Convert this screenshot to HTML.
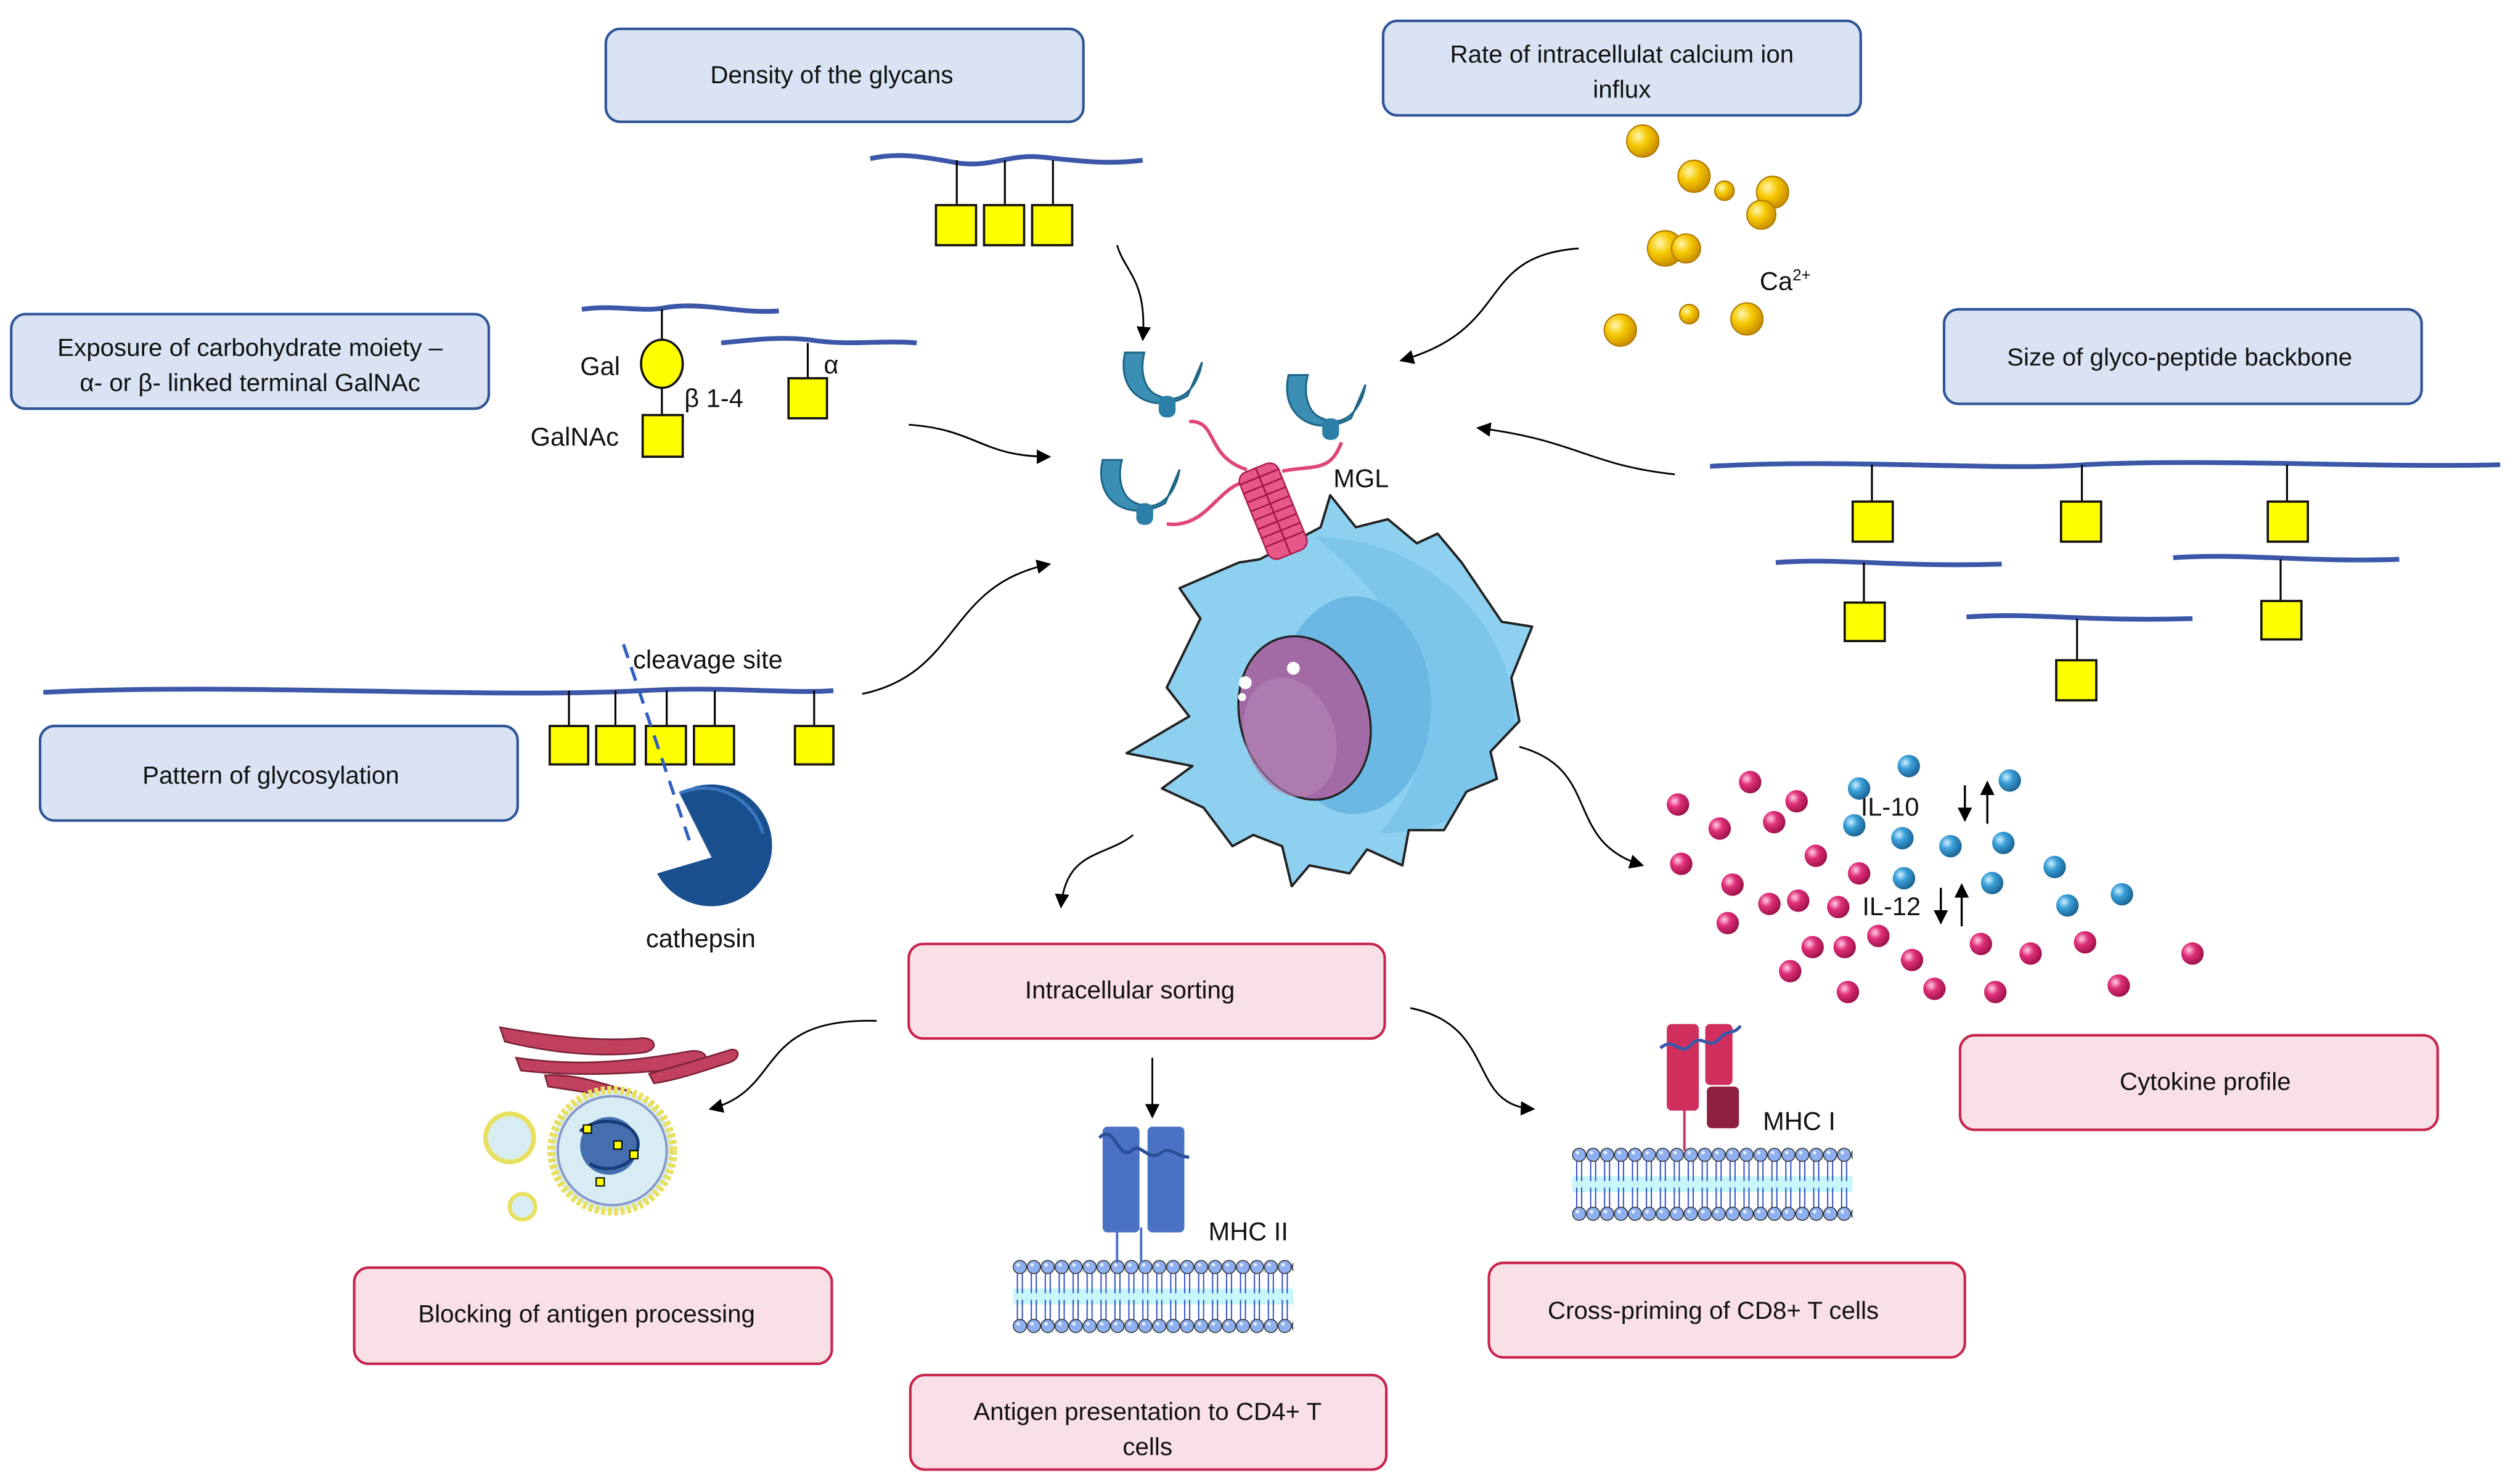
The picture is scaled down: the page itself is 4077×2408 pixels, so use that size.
<!DOCTYPE html>
<html><head><meta charset="utf-8"><style>
html,body{margin:0;padding:0;background:#fff;}
svg{display:block;}
text{font-family:"Liberation Sans",sans-serif;fill:#111;}
</style></head><body>
<svg width="4077" height="2408" viewBox="0 0 1568 926" preserveAspectRatio="none" xmlns="http://www.w3.org/2000/svg">
<defs>
<marker id="ah" viewBox="0 0 10 10" refX="9" refY="5" markerWidth="9" markerHeight="9" markerUnits="userSpaceOnUse" orient="auto">
<path d="M0,0 L10,5 L0,10 z" fill="#000"/></marker>
<pattern id="mem" width="8.7" height="46" patternUnits="userSpaceOnUse">
<rect x="0" y="18" width="8.7" height="10" fill="#c8f6fa"/>
<path d="M2.8,8 V21 M5.9,8 V21 M2.8,25 V38 M5.9,25 V38" stroke="#1f3fbf" stroke-width="0.7" fill="none"/>
<circle cx="4.35" cy="4.6" r="4.1" fill="#8fb0f0" stroke="#333" stroke-width="0.6"/>
<circle cx="4.35" cy="41.4" r="4.1" fill="#8fb0f0" stroke="#333" stroke-width="0.6"/>
<circle cx="3.3" cy="3.3" r="1.1" fill="#e8f0ff"/>
<circle cx="3.3" cy="40.1" r="1.1" fill="#e8f0ff"/>
</pattern>
<radialGradient id="ca" cx="0.35" cy="0.35" r="0.7"><stop offset="0" stop-color="#fff6b0"/><stop offset="0.45" stop-color="#f5c800"/><stop offset="1" stop-color="#c88a00"/></radialGradient>
<radialGradient id="pk" cx="0.35" cy="0.35" r="0.7"><stop offset="0" stop-color="#ffd0e4"/><stop offset="0.4" stop-color="#e0307a"/><stop offset="1" stop-color="#9a1046"/></radialGradient>
<radialGradient id="bl" cx="0.35" cy="0.35" r="0.7"><stop offset="0" stop-color="#d0f0ff"/><stop offset="0.4" stop-color="#3aa0d8"/><stop offset="1" stop-color="#1a5f90"/></radialGradient>
<g id="rec"><path d="M-16,-12 C-20,6 -4,14 10,6 L16,-8 C14,4 6,10 -2,6 C-8,4 -10,-4 -8,-12 Z" fill="#3b8fb5" stroke="#1e6688" stroke-width="0.8"/><rect x="-2" y="6" width="7" height="9" rx="3" fill="#2c7fa6"/></g>
<path id="cellp" d="M830,309 L846,329 L866,324 L884,339 L897,333 L912,351 L937,388 L956,391 L943,423 L948,450 L930,469 L934,486 L915,494 L901,518 L879,518 L875,540 L853,530 L842,545 L817,540 L806,553 L800,528 L782,521 L769,528 L751,504 L725,492 L744,478 L703,470 L742,447 L728,429 L749,386 L736,367 L773,351 L786,349 L824,329 Z"/>
<clipPath id="cc"><use href="#cellp"/></clipPath>
</defs>

<g fill="#dae3f3" stroke="#2f5597" stroke-width="1.6">
<rect x="378" y="18" width="298" height="58" rx="9"/>
<rect x="863" y="13" width="298" height="59" rx="9"/>
<rect x="7" y="196" width="298" height="59" rx="9"/>
<rect x="1213" y="193" width="298" height="59" rx="9"/>
<rect x="25" y="453" width="298" height="59" rx="9"/>
</g>
<g fill="#f8e0e6" stroke="#c8244e" stroke-width="1.6">
<rect x="567" y="589" width="297" height="59" rx="9"/>
<rect x="1223" y="646" width="298" height="59" rx="9"/>
<rect x="221" y="791" width="298" height="60" rx="9"/>
<rect x="929" y="788" width="297" height="59" rx="9"/>
<rect x="568" y="858" width="297" height="59" rx="9"/>
</g>
<g font-size="15.5" text-anchor="middle">
<text x="519" y="52">Density of the glycans</text>
<text x="1012" y="39">Rate of intracellulat calcium ion</text>
<text x="1012" y="61">influx</text>
<text x="156" y="222">Exposure of carbohydrate moiety –</text>
<text x="156" y="244">α- or β- linked terminal GalNAc</text>
<text x="1360" y="228">Size of glyco-peptide backbone</text>
<text x="169" y="489">Pattern of glycosylation</text>
<text x="705" y="623">Intracellular sorting</text>
<text x="1376" y="680">Cytokine profile</text>
<text x="366" y="825">Blocking of antigen processing</text>
<text x="1069" y="823">Cross-priming of CD8+ T cells</text>
<text x="716" y="886">Antigen presentation to CD4+ T</text>
<text x="716" y="908">cells</text>
</g>

<g fill="none" stroke="#3b58a8" stroke-width="3">
<path d="M543,99 C565,94 585,100 600,102 C620,104 630,96 650,98 C670,100 690,103 713,100"/>
<path d="M363,193 C385,190 400,195 415,192 C440,188 460,196 486,194"/>
<path d="M450,214 C470,212 485,210 505,212 C530,216 550,212 572,214"/>
<path d="M1067,291 C1150,286 1250,294 1300,290 C1380,286 1480,292 1560,290"/>
<path d="M1108,351 C1150,348 1180,354 1249,352"/>
<path d="M1356,348 C1400,345 1440,351 1497,349"/>
<path d="M1227,385 C1270,382 1300,388 1368,386"/>
<path d="M27,432 C150,426 300,436 400,431 C450,428 490,433 520,431"/>
</g>
<g stroke="#000" stroke-width="1.2">
<path d="M597,100V128 M627,100V128 M657,100V128"/>
<path d="M413,193V260"/>
<path d="M504,214V236"/>
<path d="M1168,290V313 M1299,290V313 M1427,290V313 M1163,351V376 M1423,349V375 M1296,386V412"/>
<path d="M355,431V453 M384,431V453 M416,431V453 M446,431V453 M508,431V453"/>
</g>
<g fill="#ffff00" stroke="#111" stroke-width="1.4">
<rect x="584" y="128" width="25" height="25"/><rect x="614" y="128" width="25" height="25"/><rect x="644" y="128" width="25" height="25"/>
<ellipse cx="413" cy="227" rx="13" ry="15"/>
<rect x="401" y="259" width="25" height="26"/>
<rect x="492" y="236" width="24" height="25"/>
<rect x="1156" y="313" width="25" height="25"/><rect x="1286" y="313" width="25" height="25"/><rect x="1415" y="313" width="25" height="25"/>
<rect x="1151" y="376" width="25" height="24"/><rect x="1411" y="375" width="25" height="24"/><rect x="1283" y="412" width="25" height="25"/>
<rect x="343" y="453" width="24" height="24"/><rect x="372" y="453" width="24" height="24"/><rect x="403" y="453" width="25" height="24"/><rect x="433" y="453" width="25" height="24"/><rect x="496" y="453" width="24" height="24"/>
</g>
<g font-size="16">
<text x="362" y="234">Gal</text>
<text x="427" y="254">β 1-4</text>
<text x="331" y="278">GalNAc</text>
<text x="514" y="233">α</text>
<text x="395" y="417">cleavage site</text>
<text x="403" y="591">cathepsin</text>
<text x="1098" y="181">Ca<tspan font-size="10" dy="-6">2+</tspan></text>
<text x="832" y="304">MGL</text>
<text x="1161" y="509">IL-10</text>
<text x="1162" y="571">IL-12</text>
<text x="754" y="774">MHC II</text>
<text x="1100" y="705">MHC I</text>
</g>
<path d="M389,402 L432,530" stroke="#2f5fc0" stroke-width="2" stroke-dasharray="9,6"/>
<path d="M444,535 L424,495 A38,38 0 1,1 410,545 Z" fill="#1a4f8f"/>
<path d="M424,495 A38,38 0 0,1 476,520" fill="none" stroke="#3a77c0" stroke-width="2"/>

<g stroke="#000" stroke-width="1.3" marker-end="url(#ah)">
<path d="M1226,490V512"/><path d="M1240,514V488"/>
<path d="M1211,554V576"/><path d="M1224,578V552"/>
</g>

<g fill="url(#ca)" stroke="#b07800" stroke-width="0.8">
<circle cx="1025" cy="88" r="10"/><circle cx="1057" cy="110" r="10"/><circle cx="1076" cy="119" r="6"/><circle cx="1106" cy="120" r="10"/><circle cx="1099" cy="134" r="9"/><circle cx="1039" cy="155" r="11"/><circle cx="1052" cy="155" r="9"/><circle cx="1054" cy="196" r="6"/><circle cx="1090" cy="199" r="10"/><circle cx="1011" cy="206" r="10"/>
</g>

<g fill="none" stroke="#000" stroke-width="1.1" marker-end="url(#ah)">
<path d="M697,153 C702,170 716,175 713,212"/>
<path d="M985,155 C920,160 945,205 874,225"/>
<path d="M1045,296 C990,290 985,275 922,267"/>
<path d="M567,265 C610,268 612,285 655,285"/>
<path d="M538,433 C600,420 590,365 655,352"/>
<path d="M707,521 C690,535 665,530 662,566"/>
<path d="M948,466 C1000,480 975,525 1025,540"/>
<path d="M547,637 C470,635 490,680 443,692"/>
<path d="M719,660 V697"/>
<path d="M880,629 C935,640 915,690 957,692"/>
</g>

<!-- Cell -->
<use href="#cellp" fill="#8ed0f0"/>
<g clip-path="url(#cc)">
<path d="M820,335 C890,335 945,390 945,450 C945,495 910,520 860,520 C900,480 905,400 820,335 Z" fill="#7cc6ec"/>
<ellipse cx="845" cy="440" rx="48" ry="68" fill="#6ab8e3"/>
</g>
<use href="#cellp" fill="none" stroke="#222" stroke-width="1.5" stroke-linejoin="round"/>
<ellipse cx="814" cy="448" rx="40" ry="52" transform="rotate(-18 814 448)" fill="#a36ba6" stroke="#222" stroke-width="1.3"/>
<ellipse cx="805" cy="460" rx="28" ry="38" transform="rotate(-18 805 460)" fill="#b585b8" opacity="0.6"/>
<circle cx="777" cy="426" r="4" fill="#fff"/><circle cx="807" cy="417" r="4" fill="#fff"/><circle cx="775" cy="435" r="2.5" fill="#fff"/>

<!-- MGL -->
<g fill="none" stroke="#e0457a" stroke-width="2.2">
<path d="M742,263 C760,262 752,285 778,293"/>
<path d="M837,276 C830,295 820,290 800,294"/>
<path d="M728,327 C755,330 760,300 782,300"/>
</g>
<g transform="rotate(-22 794 318)">
<rect x="781" y="290" width="26" height="58" rx="6" fill="#e8578a" stroke="#b02050" stroke-width="1"/>
<path d="M781,296H807 M781,302H807 M781,308H807 M781,314H807 M781,320H807 M781,326H807 M781,332H807 M781,338H807 M794,290V348" stroke="#a01848" stroke-width="1"/>
</g>
<use href="#rec" transform="translate(726,238) scale(1.5)"/>
<use href="#rec" transform="translate(828,252) scale(1.5)"/>
<use href="#rec" transform="translate(712,305) scale(1.5)"/>

<g fill="url(#pk)">
<circle cx="1047" cy="502" r="7"/><circle cx="1092" cy="488" r="7"/><circle cx="1121" cy="500" r="7"/><circle cx="1073" cy="517" r="7"/><circle cx="1107" cy="513" r="7"/><circle cx="1049" cy="539" r="7"/><circle cx="1081" cy="552" r="7"/><circle cx="1104" cy="564" r="7"/><circle cx="1122" cy="562" r="7"/><circle cx="1133" cy="534" r="7"/><circle cx="1160" cy="545" r="7"/><circle cx="1147" cy="566" r="7"/><circle cx="1078" cy="576" r="7"/><circle cx="1131" cy="591" r="7"/><circle cx="1151" cy="591" r="7"/><circle cx="1172" cy="584" r="7"/><circle cx="1193" cy="599" r="7"/><circle cx="1117" cy="606" r="7"/><circle cx="1153" cy="619" r="7"/><circle cx="1207" cy="617" r="7"/><circle cx="1236" cy="589" r="7"/><circle cx="1267" cy="595" r="7"/><circle cx="1301" cy="588" r="7"/><circle cx="1245" cy="619" r="7"/><circle cx="1322" cy="615" r="7"/><circle cx="1368" cy="595" r="7"/>
</g>
<g fill="url(#bl)">
<circle cx="1191" cy="478" r="7"/><circle cx="1160" cy="492" r="7"/><circle cx="1254" cy="487" r="7"/><circle cx="1157" cy="515" r="7"/><circle cx="1187" cy="523" r="7"/><circle cx="1217" cy="528" r="7"/><circle cx="1250" cy="526" r="7"/><circle cx="1282" cy="541" r="7"/><circle cx="1243" cy="551" r="7"/><circle cx="1290" cy="565" r="7"/><circle cx="1324" cy="558" r="7"/><circle cx="1188" cy="548" r="7"/>
</g>

<g transform="translate(632,786)"><rect width="175" height="46" fill="url(#mem)"/></g>
<path d="M697,766V788 M712,766V788" stroke="#4a72c4" stroke-width="1.5"/>
<rect x="688" y="703" width="23" height="66" rx="3" fill="#4a72c4"/>
<rect x="716" y="703" width="23" height="66" rx="3" fill="#4a72c4"/>
<path d="M686,710 C695,700 698,725 706,718 C712,712 716,726 725,719 C730,715 734,722 742,722" fill="none" stroke="#2a4e98" stroke-width="2"/>
<g transform="translate(981,716)"><rect width="175" height="46" fill="url(#mem)"/></g>
<path d="M1051,690V718" stroke="#c82e5a" stroke-width="1.5"/>
<rect x="1040" y="639" width="20" height="54" rx="3" fill="#d02f5e"/>
<rect x="1064" y="639" width="17" height="38" rx="3" fill="#d02f5e"/>
<rect x="1065" y="678" width="20" height="26" rx="3" fill="#8e1f3e"/>
<path d="M1036,654 C1045,646 1048,660 1055,652 C1062,644 1066,656 1073,648 C1078,642 1082,646 1086,640" fill="none" stroke="#3b58a8" stroke-width="2"/>

<g fill="#c0405e" stroke="#7a2236" stroke-width="1">
<path d="M312,641 C340,646 370,650 398,648 C410,646 412,656 400,657 C370,660 340,656 315,650 Z"/>
<path d="M322,660 C350,664 380,665 430,656 C442,654 445,664 432,666 C400,670 360,672 325,668 Z"/>
<path d="M340,671 C360,670 375,676 390,680 C398,682 396,689 387,686 C370,682 355,680 342,678 Z"/>
<path d="M405,670 C420,666 440,660 456,655 C462,654 462,661 455,663 C440,668 422,674 408,676 Z"/>
</g>
<circle cx="382" cy="718" r="38" fill="#d8ecf4" stroke="#e8e060" stroke-width="5" stroke-dasharray="2.5,1.5"/>
<circle cx="382" cy="718" r="34" fill="none" stroke="#8898c8" stroke-width="1.5"/>
<circle cx="380" cy="715" r="18" fill="#2a58a0" opacity="0.85"/>
<path d="M362,706 C372,696 395,698 398,712 C400,726 380,734 368,726" fill="none" stroke="#143d7a" stroke-width="2"/>
<g fill="#ffff00" stroke="#000" stroke-width="0.8"><rect x="364" y="702" width="5" height="5"/><rect x="383" y="712" width="5" height="5"/><rect x="393" y="718" width="5" height="5"/><rect x="372" y="735" width="5" height="5"/></g>
<circle cx="318" cy="710" r="15" fill="#d8ecf4" stroke="#e8e060" stroke-width="3"/>
<circle cx="326" cy="753" r="8" fill="#d8ecf4" stroke="#e8e060" stroke-width="2.5"/>
</svg>
</body></html>
